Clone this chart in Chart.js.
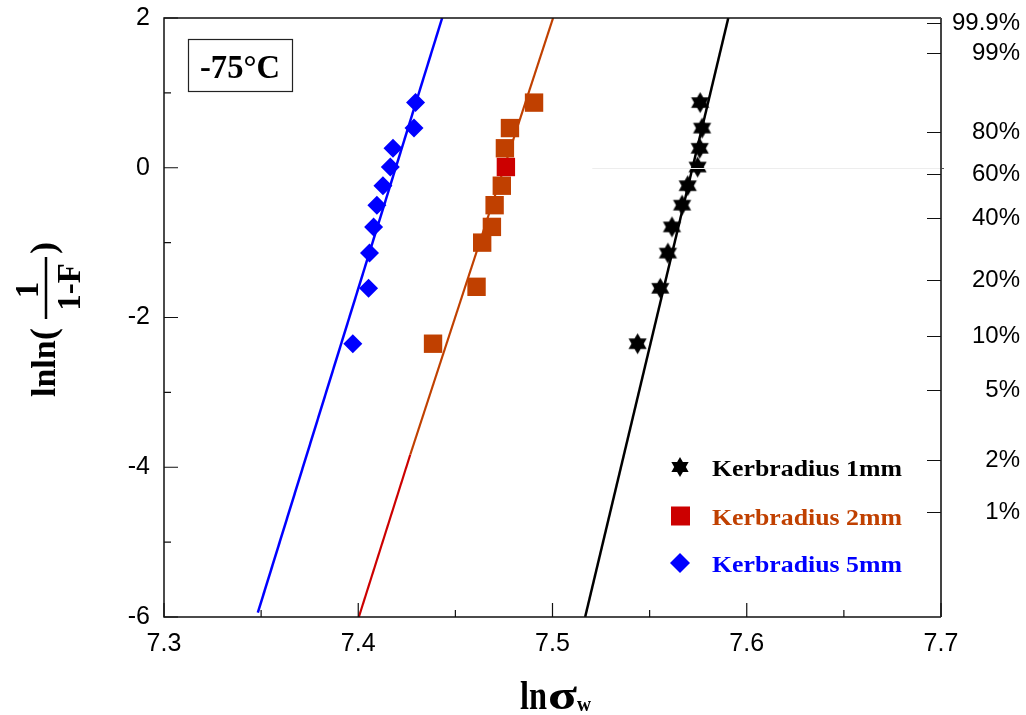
<!DOCTYPE html>
<html>
<head>
<meta charset="utf-8">
<script src="https://cdn.jsdelivr.net/npm/chart.js@4.4.1/dist/chart.umd.min.js"></script>
<style>
  html, body { margin: 0; padding: 0; background: #fff; overflow: hidden; }
  canvas { display: block; }
</style>
</head>
<body>
<canvas id="weibull" width="1026" height="715"></canvas>
<script>
// Weibull plot at -75 °C: lnln(1/(1-F)) against ln(sigma_w) for three notch radii.

const seriesNames = ['Kerbradius 1mm', 'Kerbradius 2mm', 'Kerbradius 5mm'];

// Kerbradius 1mm
const r1X = [7.5438, 7.5555, 7.5594, 7.5615, 7.5667, 7.5696, 7.5747, 7.5758, 7.5770, 7.5760];
const r1Y = [-2.35, -1.61, -1.14, -0.79, -0.50, -0.24, 0.01, 0.26, 0.53, 0.87];

// Kerbradius 2mm
const r2X = [7.4385, 7.4609, 7.4638, 7.4688, 7.4702, 7.4739, 7.4760, 7.4755, 7.4781, 7.4905];
const r2Y = [-2.35, -1.59, -1.00, -0.79, -0.50, -0.24, 0.01, 0.26, 0.53, 0.87];

// Kerbradius 5mm
const r5X = [7.3972, 7.4053, 7.4058, 7.4079, 7.4096, 7.4127, 7.4165, 7.4179, 7.4287, 7.4295];
const r5Y = [-2.35, -1.61, -1.14, -0.79, -0.50, -0.24, 0.01, 0.26, 0.53, 0.87];

// Fitted straight lines (end points)
const fit1X = [7.5168, 7.5905];
const fit1Y = [-6.0, 2.0];
const fit2LowX = [7.4003, 7.4268];
const fit2LowY = [-6.0, -3.83];
const fit2X = [7.4268, 7.5003];
const fit2Y = [-3.83, 2.0];
const fit5X = [7.3483, 7.4432];
const fit5Y = [-5.94, 2.0];

// Axis ticks
const xTicks = [7.3, 7.4, 7.5, 7.6, 7.7];
const xMinorTicks = [7.35, 7.45, 7.55, 7.65];
const yTicks = [2, 0, -2, -4, -6];
const yMinorTicks = [1, -1, -3, -5];
const probPercents = [99.9, 99, 80, 60, 40, 20, 10, 5, 2, 1];
const probLabels = ['99.9%', '99%', '80%', '60%', '40%', '20%', '10%', '5%', '2%', '1%'];

const tempLabel = '-75°C';

const BLACK = '#000000';
const ORANGE = '#c04000';
const RED = '#cc0000';
const BLUE = '#0000ff';
const SERIF = '"Liberation Serif", "Times New Roman", serif';
const SANS = '"Liberation Sans", Arial, sans-serif';

// right-hand probability scale positions on the lnln axis
const probValues = probPercents.map(p => Math.log(-Math.log(1 - p / 100)));

// per-point colours of the 2mm squares (one measured point highlighted in red)
const r2Colors = r2X.map((_, i) => (i === 6 ? RED : ORANGE));

function pts(xs, ys) { return xs.map((x, i) => ({ x: x, y: ys[i] })); }

// filled six-pointed star marker
function hexagram(r, color) {
  const s = Math.ceil(2 * r + 2);
  const c = document.createElement('canvas');
  c.width = s; c.height = s;
  const g = c.getContext('2d');
  g.fillStyle = color;
  g.translate(s / 2, s / 2);
  const tri = rot => {
    g.beginPath();
    for (let k = 0; k < 3; k++) {
      const a = rot + k * 2 * Math.PI / 3;
      g.lineTo(r * Math.sin(a), -r * Math.cos(a));
    }
    g.closePath();
    g.fill();
  };
  tri(0);
  tri(Math.PI);
  return c;
}
const starImg = hexagram(10.5, BLACK);
const starLegendImg = hexagram(10, BLACK);

// text squeezed or stretched horizontally to a given width
function fitText(ctx, text, font, x, baseline, width, align) {
  ctx.save();
  ctx.font = font;
  const w = ctx.measureText(text).width;
  const sx = width / w;
  let x0 = x;
  if (align === 'center') x0 = x - width / 2;
  ctx.translate(x0, baseline);
  ctx.scale(sx, 1);
  ctx.textAlign = 'left';
  ctx.textBaseline = 'alphabetic';
  ctx.fillText(text, 0, 0);
  ctx.restore();
}

// keep the plot frame fixed: no extra room reserved for the end labels
function noScalePadding(s) {
  s.paddingTop = 0; s.paddingBottom = 0; s.paddingLeft = 0; s.paddingRight = 0;
}

const decorations = {
  id: 'decorations',
  afterDraw(chart) {
    const ctx = chart.ctx;
    const a = chart.chartArea;
    const xs = chart.scales.x;
    const ys = chart.scales.y;
    const yr = chart.scales.yProb;

    ctx.save();

    // faint reference line at lnln = 0
    const y0 = Math.round(ys.getPixelForValue(0)) + 0.5;
    ctx.strokeStyle = '#ededed';
    ctx.lineWidth = 1;
    ctx.beginPath();
    ctx.moveTo(xs.getPixelForValue(7.5205), y0);
    ctx.lineTo(a.right, y0);
    ctx.stroke();
    ctx.strokeStyle = '#555';
    ctx.beginPath();
    ctx.moveTo(a.right, y0);
    ctx.lineTo(a.right + 3, y0);
    ctx.stroke();

    // frame
    ctx.strokeStyle = '#111';
    ctx.lineWidth = 1.5;
    ctx.beginPath();
    ctx.moveTo(a.right, a.top);
    ctx.lineTo(a.left, a.top);
    ctx.lineTo(a.left, a.bottom);
    ctx.lineTo(a.right, a.bottom);
    ctx.stroke();
    ctx.strokeStyle = '#444';
    ctx.lineWidth = 2;
    ctx.beginPath();
    ctx.moveTo(a.right, a.top);
    ctx.lineTo(a.right, a.bottom);
    ctx.stroke();

    // inward tick marks
    ctx.strokeStyle = '#111';
    ctx.lineWidth = 1.2;
    ctx.beginPath();
    xTicks.forEach(v => { const p = xs.getPixelForValue(v); ctx.moveTo(p, a.bottom); ctx.lineTo(p, a.bottom - 14); });
    xMinorTicks.forEach(v => { const p = xs.getPixelForValue(v); ctx.moveTo(p, a.bottom); ctx.lineTo(p, a.bottom - 7); });
    yTicks.forEach(v => { const p = ys.getPixelForValue(v); ctx.moveTo(a.left, p); ctx.lineTo(a.left + 14, p); });
    yMinorTicks.forEach(v => { const p = ys.getPixelForValue(v); ctx.moveTo(a.left, p); ctx.lineTo(a.left + 7, p); });
    probValues.forEach(v => { const p = Math.round(yr.getPixelForValue(v)) + 0.5; ctx.moveTo(a.right, p); ctx.lineTo(a.right - 14, p); });
    ctx.stroke();

    // temperature box
    ctx.strokeStyle = '#222';
    ctx.lineWidth = 1.2;
    ctx.strokeRect(188.5, 39.5, 104, 52);
    ctx.fillStyle = BLACK;
    fitText(ctx, tempLabel, 'bold 33px ' + SERIF, 240, 78, 80, 'center');

    // legend
    const rows = [
      { y: 467, text: seriesNames[0], color: BLACK },
      { y: 516, text: seriesNames[1], color: ORANGE },
      { y: 563, text: seriesNames[2], color: BLUE }
    ];
    ctx.drawImage(starLegendImg, 680 - starLegendImg.width / 2, rows[0].y - starLegendImg.height / 2);
    ctx.fillStyle = RED;
    ctx.fillRect(671, rows[1].y - 9.5, 19, 19);
    ctx.fillStyle = BLUE;
    ctx.beginPath();
    ctx.moveTo(670, rows[2].y);
    ctx.lineTo(680, rows[2].y - 10);
    ctx.lineTo(690, rows[2].y);
    ctx.lineTo(680, rows[2].y + 10);
    ctx.closePath();
    ctx.fill();
    rows.forEach(r => {
      ctx.fillStyle = r.color;
      fitText(ctx, r.text, 'bold 23px ' + SERIF, 712, r.y + 8.5, 190);
    });

    // x-axis title: ln sigma_w
    ctx.fillStyle = BLACK;
    fitText(ctx, 'ln', 'bold 40px ' + SERIF, 520, 709, 27);
    fitText(ctx, 'σ', 'bold 42px ' + SERIF, 548, 709, 29);
    fitText(ctx, 'w', 'bold 20px ' + SERIF, 577, 711, 14);

    // y-axis title: lnln(1/(1-F)), rotated
    ctx.save();
    ctx.translate(0, 318);
    ctx.rotate(-Math.PI / 2);
    ctx.fillStyle = BLACK;
    ctx.textBaseline = 'alphabetic';
    ctx.font = 'bold 34px ' + SERIF;
    ctx.textAlign = 'left';
    ctx.fillText('lnln', -79, 55);
    ctx.font = 'bold 36px ' + SERIF;
    ctx.fillText('(', -22, 55);
    ctx.fillText(')', 64, 55);
    ctx.strokeStyle = BLACK;
    ctx.lineWidth = 2.5;
    ctx.beginPath();
    ctx.moveTo(-1, 46);
    ctx.lineTo(61, 46);
    ctx.stroke();
    ctx.font = 'bold 33px ' + SERIF;
    ctx.textAlign = 'center';
    ctx.fillText('1', 28, 38);
    ctx.fillText('1-F', 31, 80);
    ctx.restore();

    ctx.restore();
  }
};

const pointDefaults = { showLine: false, pointBorderWidth: 0, pointHoverRadius: 0 };
const lineDefaults = { showLine: true, pointRadius: 0, pointHoverRadius: 0, fill: false };

new Chart(document.getElementById('weibull'), {
  type: 'scatter',
  data: {
    datasets: [
      Object.assign({ label: seriesNames[0], data: pts(r1X, r1Y), pointStyle: starImg, pointRadius: 10,
        backgroundColor: BLACK, borderColor: BLACK }, pointDefaults),
      Object.assign({ label: seriesNames[1], data: pts(r2X, r2Y), pointStyle: 'rect', pointRadius: 13,
        pointBackgroundColor: r2Colors, borderColor: ORANGE }, pointDefaults),
      Object.assign({ label: seriesNames[2], data: pts(r5X, r5Y), pointStyle: 'rectRot', pointRadius: 9.5,
        backgroundColor: BLUE, borderColor: BLUE }, pointDefaults),
      Object.assign({ label: 'fit 1mm', data: pts(fit1X, fit1Y), borderColor: BLACK, borderWidth: 2.5 }, lineDefaults),
      Object.assign({ label: 'fit 2mm', data: pts(fit2X, fit2Y), borderColor: ORANGE, borderWidth: 2.2 }, lineDefaults),
      Object.assign({ label: 'fit 2mm low', data: pts(fit2LowX, fit2LowY), borderColor: RED, borderWidth: 2.2 }, lineDefaults),
      Object.assign({ label: 'fit 5mm', data: pts(fit5X, fit5Y), borderColor: BLUE, borderWidth: 2.5 }, lineDefaults)
    ]
  },
  options: {
    responsive: false,
    animation: false,
    devicePixelRatio: 1,
    layout: { padding: { top: 18, right: 6, bottom: 0, left: 0 } },
    plugins: { legend: { display: false }, tooltip: { enabled: false } },
    events: [],
    scales: {
      x: {
        type: 'linear', position: 'bottom', min: 7.3, max: 7.7,
        afterBuildTicks: s => { s.ticks = xTicks.map(v => ({ value: v })); },
        grid: { display: false, drawTicks: false },
        border: { display: false },
        ticks: {
          color: BLACK, padding: 12, autoSkip: false, maxRotation: 0,
          font: { family: SANS, size: 25 },
          callback: v => Number(v).toFixed(1)
        },
        afterFit: s => { s.height = 98; noScalePadding(s); }
      },
      y: {
        type: 'linear', position: 'left', min: -6, max: 2,
        afterBuildTicks: s => { s.ticks = yTicks.map(v => ({ value: v })); },
        grid: { display: false, drawTicks: false },
        border: { display: false },
        ticks: {
          color: BLACK, padding: 14, autoSkip: false,
          font: { family: SANS, size: 25 },
          callback: v => String(v)
        },
        afterFit: s => { s.width = 164; noScalePadding(s); }
      },
      yProb: {
        type: 'linear', position: 'right', min: -6, max: 2,
        afterBuildTicks: s => { s.ticks = probValues.map(v => ({ value: v })); },
        grid: { display: false, drawTicks: false },
        border: { display: false },
        ticks: {
          color: BLACK, padding: 4, autoSkip: false, crossAlign: 'far',
          font: { family: SANS, size: 24 },
          callback: (v, i) => probLabels[i]
        },
        afterFit: s => { s.width = 79; noScalePadding(s); }
      }
    }
  },
  plugins: [decorations]
});
</script>
</body>
</html>
